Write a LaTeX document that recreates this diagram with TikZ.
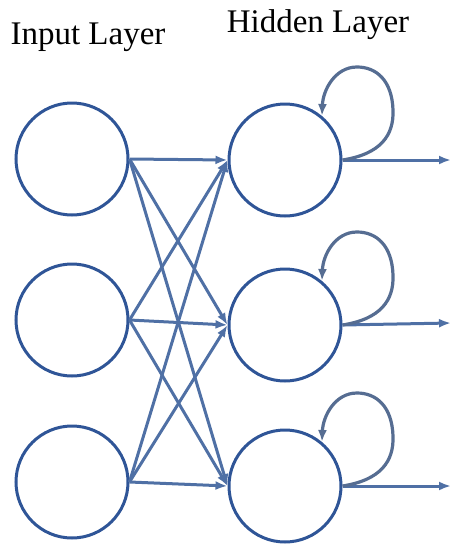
\documentclass[tikz,border=0pt]{standalone}
\usepackage{fontspec}
\setmainfont{Liberation Serif}
\usetikzlibrary{arrows.meta,calc}
\definecolor{ringblue}{HTML}{2F5597}
\definecolor{edgeblue}{HTML}{4F70A5}
\definecolor{loopblue}{HTML}{566D92}
\tikzset{
  neuron/.style={circle,draw=ringblue,line width=3pt,minimum size=112pt,inner sep=0pt,fill=white},
  link/.style={draw=edgeblue,line width=3pt,-{Latex[length=12pt,width=9pt]}},
  selfloop/.style={draw=loopblue,line width=3.2pt,-{Latex[length=12pt,width=9pt]}},
  title/.style={font=\fontsize{33}{38}\selectfont,anchor=base,inner sep=0pt}
}
\begin{document}
\begin{tikzpicture}[x=1pt,y=1pt]
\useasboundingbox (0,0) rectangle (452,-544);
\node[title] (tin) at (88,-44) {Input Layer};
\node[title] (thid) at (318,-32) {Hidden Layer};
\node[neuron] (i1) at (72,-159) {};
\node[neuron] (i2) at (72,-320) {};
\node[neuron] (i3) at (72,-482) {};
\node[neuron] (h1) at (285,-160) {};
\node[neuron] (h2) at (285,-325) {};
\node[neuron] (h3) at (285,-486) {};
\coordinate (o1) at (451,-160);
\coordinate (o2) at (451,-323);
\coordinate (o3) at (451,-486);
\foreach \a in {1,2,3}{
  \foreach \b in {1,2,3}{
    \draw[link] (i\a.east) -- (h\b.west);
  }
}
\foreach \b in {1,2,3}{
  \draw[link] (h\b.east) -- (o\b);
  \draw[selfloop] (h\b.east)
    .. controls ($(h\b)+(96,6)$) and ($(h\b)+(109,25)$) .. ($(h\b)+(108,50)$)
    .. controls ($(h\b)+(107,80)$) and ($(h\b)+(91,93)$) .. ($(h\b)+(72,93)$)
    .. controls ($(h\b)+(50,93)$) and ($(h\b)+(38,70)$) .. (h\b.50);
}
\end{tikzpicture}
\end{document}
